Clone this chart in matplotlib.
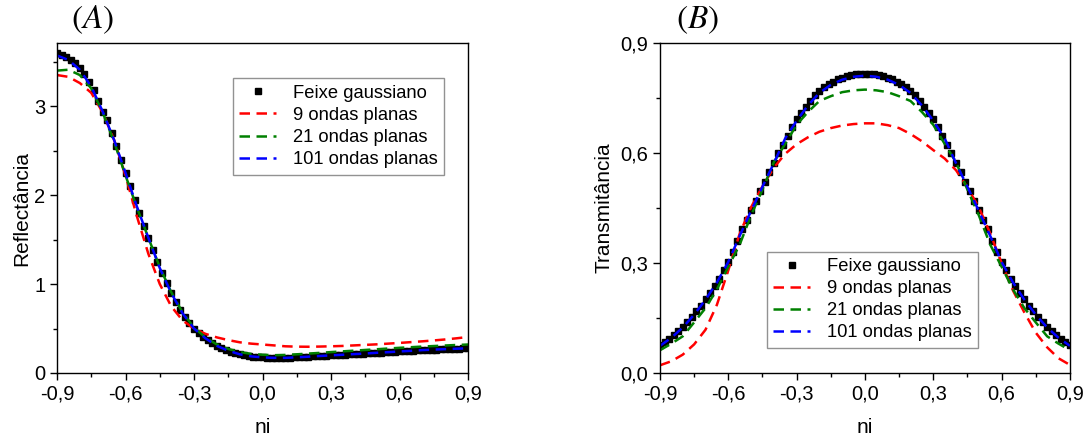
import matplotlib
matplotlib.use("Agg")
import matplotlib.pyplot as plt
import numpy as np

plt.rcParams['font.family'] = ['Liberation Sans', 'DejaVu Sans']
plt.rcParams['mathtext.fontset'] = 'stix'

# grids of ni
ni_fine = np.linspace(-0.9, 0.9, 91)    # step 0.02 (Gaussian beam markers)
ni_coarse = np.linspace(-0.9, 0.9, 37)  # step 0.05 (plane-wave curves)

# ---- (A) Reflectance ----
refl_gauss = [3.60, 3.58, 3.55, 3.52, 3.48, 3.43, 3.36, 3.27, 3.18, 3.06,
              2.94, 2.84, 2.70, 2.55, 2.40, 2.25, 2.10, 1.95, 1.80, 1.65,
              1.52, 1.38, 1.25, 1.12, 1.01, 0.90, 0.80, 0.71, 0.63, 0.56,
              0.50, 0.45, 0.41, 0.37, 0.335, 0.305, 0.28, 0.26, 0.24, 0.225,
              0.21, 0.20, 0.19, 0.185, 0.18, 0.175, 0.172, 0.17, 0.17, 0.17,
              0.17, 0.172, 0.175, 0.178, 0.18, 0.183, 0.186, 0.19, 0.192, 0.195,
              0.198, 0.20, 0.203, 0.206, 0.209, 0.212, 0.215, 0.218, 0.221, 0.224,
              0.227, 0.23, 0.233, 0.236, 0.239, 0.242, 0.245, 0.248, 0.251, 0.254,
              0.257, 0.26, 0.262, 0.264, 0.266, 0.268, 0.27, 0.272, 0.274, 0.276,
              0.278]
refl_9 = [3.35, 3.33, 3.26, 3.15, 2.93, 2.62, 2.22, 1.76, 1.34, 1.00,
          0.75, 0.59, 0.50, 0.44, 0.40, 0.37, 0.345, 0.33, 0.32, 0.31,
          0.30, 0.296, 0.295, 0.297, 0.30, 0.304, 0.31, 0.316, 0.322, 0.33,
          0.338, 0.347, 0.356, 0.366, 0.377, 0.39, 0.405]
refl_21 = [3.40, 3.41, 3.35, 3.20, 2.93, 2.60, 2.22, 1.86, 1.52, 1.19,
           0.91, 0.68, 0.51, 0.40, 0.32, 0.27, 0.235, 0.215, 0.205, 0.20,
           0.203, 0.21, 0.218, 0.226, 0.235, 0.243, 0.251, 0.259, 0.267, 0.275,
           0.283, 0.29, 0.297, 0.303, 0.309, 0.315, 0.32]
refl_101 = [3.57, 3.52, 3.41, 3.22, 2.94, 2.62, 2.25, 1.87, 1.52, 1.18,
            0.90, 0.67, 0.50, 0.39, 0.305, 0.25, 0.21, 0.187, 0.175, 0.17,
            0.17, 0.176, 0.183, 0.191, 0.198, 0.205, 0.212, 0.219, 0.227, 0.234,
            0.242, 0.249, 0.257, 0.263, 0.268, 0.273, 0.278]

# ---- (B) Transmittance ----
trans_gauss = [0.076, 0.084, 0.093, 0.103, 0.114, 0.126, 0.139, 0.153, 0.168, 0.184,
               0.201, 0.218, 0.237, 0.257, 0.280, 0.303, 0.331, 0.360, 0.393, 0.418,
               0.444, 0.470, 0.496, 0.522, 0.548, 0.574, 0.599, 0.623, 0.647, 0.670,
               0.692, 0.709, 0.726, 0.742, 0.757, 0.769, 0.779, 0.788, 0.795, 0.801,
               0.806, 0.810, 0.813, 0.815, 0.816, 0.816, 0.816, 0.815, 0.813, 0.810,
               0.806, 0.801, 0.795, 0.788, 0.779, 0.769, 0.757, 0.742, 0.726, 0.709,
               0.692, 0.670, 0.647, 0.623, 0.599, 0.574, 0.548, 0.522, 0.496, 0.470,
               0.444, 0.418, 0.393, 0.360, 0.331, 0.303, 0.280, 0.257, 0.237, 0.218,
               0.201, 0.184, 0.168, 0.153, 0.139, 0.126, 0.114, 0.103, 0.093, 0.084,
               0.076]
trans_9 = [0.021, 0.032, 0.050, 0.078, 0.118, 0.186, 0.280, 0.380, 0.452, 0.509,
           0.560, 0.598, 0.624, 0.643, 0.658, 0.668, 0.675, 0.679, 0.681, 0.681,
           0.676, 0.668, 0.652, 0.632, 0.608, 0.585, 0.553, 0.506, 0.452, 0.381,
           0.300, 0.225, 0.165, 0.110, 0.070, 0.040, 0.022]
trans_21 = [0.062, 0.080, 0.100, 0.138, 0.177, 0.228, 0.290, 0.350, 0.430, 0.500,
            0.575, 0.625, 0.677, 0.712, 0.742, 0.755, 0.766, 0.771, 0.773, 0.771,
            0.766, 0.755, 0.742, 0.712, 0.677, 0.625, 0.575, 0.500, 0.430, 0.350,
            0.290, 0.228, 0.177, 0.138, 0.100, 0.080, 0.062]
trans_101 = [0.074, 0.096, 0.124, 0.159, 0.200, 0.247, 0.303, 0.374, 0.442, 0.508,
             0.572, 0.640, 0.688, 0.730, 0.764, 0.786, 0.800, 0.808, 0.811, 0.808,
             0.800, 0.786, 0.764, 0.730, 0.688, 0.640, 0.572, 0.508, 0.442, 0.374,
             0.303, 0.247, 0.200, 0.159, 0.124, 0.096, 0.074]

x_ticks = [-0.9, -0.6, -0.3, 0.0, 0.3, 0.6, 0.9]
x_ticklabels = ["-0,9", "-0,6", "-0,3", "0,0", "0,3", "0,6", "0,9"]
ya_ticks = [0, 1, 2, 3]
ya_ticklabels = ["0", "1", "2", "3"]
yb_ticks = [0.0, 0.3, 0.6, 0.9]
yb_ticklabels = ["0,0", "0,3", "0,6", "0,9"]
labels = ["Feixe gaussiano", "9 ondas planas", "21 ondas planas", "101 ondas planas"]

fig = plt.figure(figsize=(10.86, 4.37), dpi=100)
axA = fig.add_axes([0.0525, 0.1465, 0.3785, 0.755])
axB = fig.add_axes([0.6077, 0.1465, 0.3775, 0.755])

dash = (0, (4.2, 2.6))


def draw(ax, gauss, r9, r21, r101):
    ax.plot(ni_fine, gauss, 's', color='black', ms=3.8, label=labels[0])
    ax.plot(ni_coarse, r9, color='red', lw=1.8, linestyle=dash, label=labels[1])
    ax.plot(ni_coarse, r21, color='green', lw=1.8, linestyle=dash, label=labels[2])
    ax.plot(ni_coarse, r101, color='blue', lw=1.8, linestyle=dash, label=labels[3])
    ax.set_xlim(-0.9, 0.9)
    ax.set_xticks(x_ticks)
    ax.set_xticklabels(x_ticklabels)
    ax.set_xticks(np.arange(-0.75, 0.9, 0.3), minor=True)
    ax.tick_params(which='major', direction='out', length=5, width=1, labelsize=14.5)
    ax.tick_params(which='minor', direction='out', length=3, width=1)
    ax.set_xlabel('ni', fontsize=15, labelpad=10)
    for s in ax.spines.values():
        s.set_linewidth(1.0)


draw(axA, refl_gauss, refl_9, refl_21, refl_101)
axA.set_ylim(0, 3.71)
axA.set_yticks(ya_ticks)
axA.set_yticklabels(ya_ticklabels)
axA.set_yticks([0.5, 1.5, 2.5, 3.5], minor=True)
axA.set_ylabel('Reflectância', fontsize=15, labelpad=2)
legA = axA.legend(loc='upper left', bbox_to_anchor=(0.428, 0.893), fontsize=13.2,
                  fancybox=False, edgecolor='#777777', handlelength=2.0,
                  handletextpad=0.9, borderpad=0.35, labelspacing=0.28,
                  borderaxespad=0)

draw(axB, trans_gauss, trans_9, trans_21, trans_101)
axB.set_ylim(0, 0.9)
axB.set_yticks(yb_ticks)
axB.set_yticklabels(yb_ticklabels)
axB.set_yticks([0.15, 0.45, 0.75], minor=True)
axB.set_ylabel('Transmitância', fontsize=15, labelpad=5)
legB = axB.legend(loc='upper left', bbox_to_anchor=(0.261, 0.368), fontsize=13.2,
                  fancybox=False, edgecolor='#777777', handlelength=2.0,
                  handletextpad=0.9, borderpad=0.35, labelspacing=0.28,
                  borderaxespad=0)
for leg in (legA, legB):
    leg.get_frame().set_linewidth(1.0)

fig.text(0.085, 0.955, r'$(A)$', fontsize=24, ha='center', va='center')
fig.text(0.642, 0.955, r'$(B)$', fontsize=24, ha='center', va='center')

fig.savefig('out.png', dpi=100)
